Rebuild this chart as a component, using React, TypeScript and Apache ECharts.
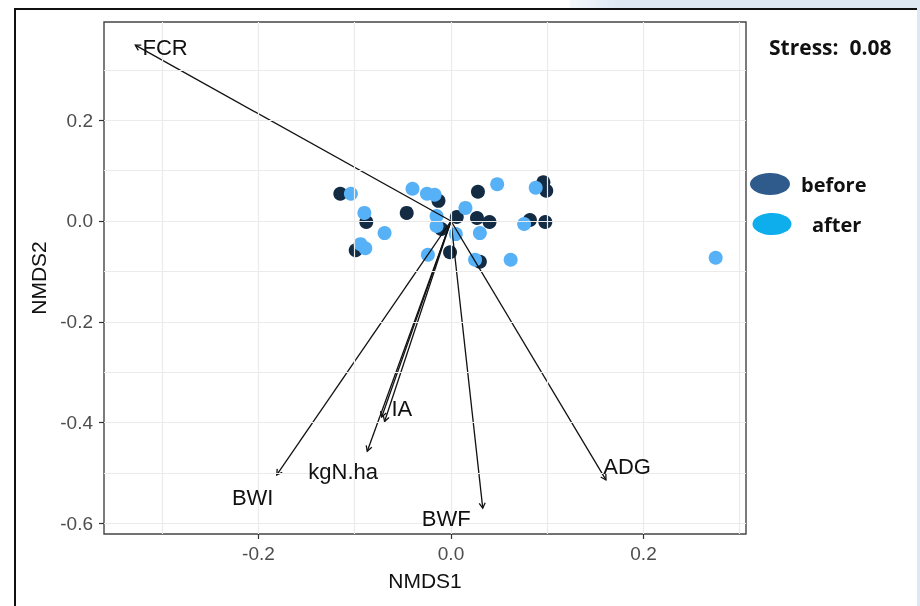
import React, { useEffect, useRef } from 'react';
import * as echarts from 'echarts';

// NMDS site scores (NMDS1, NMDS2)
const beforePoints: [number, number][] = [
  [-0.115, 0.054], [-0.046, 0.016], [-0.088, -0.002], [-0.099, -0.058],
  [-0.013, 0.040], [-0.010, -0.016], [-0.001, -0.062], [0.006, 0.008],
  [0.027, 0.006], [0.040, -0.002], [0.028, 0.058], [0.096, 0.077],
  [0.099, 0.060], [0.082, 0.002], [0.098, -0.002], [0.030, -0.081],
];
const afterPoints: [number, number][] = [
  [-0.104, 0.054], [-0.040, 0.064], [-0.025, 0.054], [-0.017, 0.052],
  [-0.090, 0.016], [-0.069, -0.024], [-0.094, -0.046], [-0.089, -0.054],
  [-0.015, 0.010], [-0.015, -0.010], [-0.024, -0.067], [0.015, 0.026],
  [0.005, -0.026], [0.030, -0.024], [0.025, -0.077], [0.048, 0.073],
  [0.088, 0.066], [0.076, -0.006], [0.062, -0.077], [0.275, -0.073],
];

// Environmental vectors (arrow tips)
const vectorNames = ['FCR', 'BWI', 'kgN.ha', 'IA', 'IA', 'BWF', 'ADG'];
const vectorEnds: [number, number][] = [
  [-0.328, 0.349], [-0.181, -0.504], [-0.087, -0.457], [-0.072, -0.389],
  [-0.069, -0.398], [0.033, -0.570], [0.161, -0.514],
];
const labelNames = ['FCR', 'BWI', 'kgN.ha', 'IA', 'BWF', 'ADG'];
const labelPositions: [number, number][] = [
  [-0.297, 0.345], [-0.206, -0.548], [-0.112, -0.498], [-0.051, -0.373],
  [-0.005, -0.590], [0.183, -0.488],
];

// Axis ticks
const xMajorTicks = [-0.2, 0.0, 0.2];
const yMajorTicks = [-0.6, -0.4, -0.2, 0.0, 0.2];
const xGridLines = [-0.3, -0.2, -0.1, 0.0, 0.1, 0.2, 0.3];
const yGridLines = [-0.6, -0.5, -0.4, -0.3, -0.2, -0.1, 0.0, 0.1, 0.2, 0.3];

const seriesNames = ['before', 'after'];
const stressLabel = 'Stress:  0.08';
const xTitle = 'NMDS1';
const yTitle = 'NMDS2';

const X_MIN = -0.3605;
const X_MAX = 0.3065;
const Y_MIN = -0.6213;
const Y_MAX = 0.395;

export default function App() {
  const ref = useRef<HTMLDivElement>(null);
  useEffect(() => {
    document.body.style.margin = '0';
    const chart = echarts.init(ref.current!, null, { renderer: 'svg' });
    const fmt = (v: number) => (Math.abs(v) < 1e-9 ? '0.0' : v.toFixed(1));
    const font = 'Liberation Sans, Arial, sans-serif';
    const axis = (min: number, max: number, name: string, isY: boolean, ticks: number[]) => ({
      type: 'value',
      min,
      max,
      name,
      nameLocation: 'middle',
      nameGap: isY ? 52 : 36,
      nameTextStyle: { fontSize: 21, color: '#111', fontFamily: font },
      axisLine: { show: false, onZero: false },
      axisTick: { show: true, length: 5, customValues: ticks, lineStyle: { color: '#333', width: 1.2 } },
      axisLabel: {
        customValues: ticks,
        formatter: fmt,
        color: '#4d4d4d',
        fontSize: 19,
        fontFamily: font,
        margin: isY ? 11 : 10,
      },
      splitLine: { show: false },
    });
    const legendColors = ['#2f5b8c', '#0eaeec'];
    chart.setOption({
      animation: false,
      grid: {
        left: 104, top: 22, right: 174, bottom: 72,
        show: true, borderColor: '#444', borderWidth: 1.4, backgroundColor: '#fff',
      },
      xAxis: axis(X_MIN, X_MAX, xTitle, false, xMajorTicks),
      yAxis: axis(Y_MIN, Y_MAX, yTitle, true, yMajorTicks),
      series: [
        {
          type: 'scatter', name: 'grid', data: [], z: 1, silent: true,
          markLine: {
            silent: true,
            animation: false,
            symbol: ['none', 'none'],
            lineStyle: { color: '#ebebeb', width: 1.2, type: 'solid' },
            label: { show: false },
            emphasis: { disabled: true },
            data: [
              ...xGridLines.map((v) => ({ xAxis: v })),
              ...yGridLines.map((v) => ({ yAxis: v })),
            ],
          },
        },
        {
          type: 'scatter', name: seriesNames[0], data: beforePoints, symbolSize: 14,
          itemStyle: { color: '#132B43', opacity: 1 }, z: 2, silent: true,
        },
        {
          type: 'scatter', name: seriesNames[1], data: afterPoints, symbolSize: 14,
          itemStyle: { color: '#56B1F7', opacity: 1 }, z: 3, silent: true,
        },
        {
          type: 'custom', name: 'vectors', z: 4, silent: true,
          data: vectorEnds.map((e, i) => ({ value: e, name: vectorNames[i] })),
          renderItem: (params: any, api: any) => {
            const s = api.coord([0, 0]);
            const e = api.coord([api.value(0), api.value(1)]);
            const a = Math.atan2(e[1] - s[1], e[0] - s[0]);
            const L = 6;
            const w = Math.PI / 6;
            const p1 = [e[0] - L * Math.cos(a - w), e[1] - L * Math.sin(a - w)];
            const p2 = [e[0] - L * Math.cos(a + w), e[1] - L * Math.sin(a + w)];
            const st = { stroke: '#111', lineWidth: 1.3, fill: 'none' };
            return {
              type: 'group',
              children: [
                { type: 'line', shape: { x1: s[0], y1: s[1], x2: e[0], y2: e[1] }, style: st },
                { type: 'polyline', shape: { points: [p1, e, p2] }, style: st },
              ],
            };
          },
        },
        {
          type: 'custom', name: 'labels', z: 5, silent: true,
          data: labelPositions.map((p, i) => ({ value: p, name: labelNames[i] })),
          renderItem: (params: any, api: any) => {
            const c = api.coord([api.value(0), api.value(1)]);
            return {
              type: 'text', x: c[0], y: c[1],
              style: {
                text: labelNames[params.dataIndex], fontSize: 22, fill: '#111',
                fontFamily: font, align: 'center', verticalAlign: 'middle',
              },
            };
          },
        },
      ],
      graphic: [
        { type: 'rect', shape: { x: 570, y: 0, width: 350, height: 9 },
          style: { fill: new echarts.graphic.LinearGradient(0, 0, 1, 0, [
            { offset: 0, color: '#f4f8fb' }, { offset: 0.15, color: '#dde8f2' }, { offset: 1, color: '#dde8f2' },
          ]) }, silent: true },
        { type: 'rect', shape: { x: 917, y: 0, width: 3, height: 606 }, style: { fill: '#dde8f2' }, silent: true },
        { type: 'line', shape: { x1: 14, y1: 9, x2: 917, y2: 9 }, style: { stroke: '#111', lineWidth: 2 }, silent: true },
        { type: 'line', shape: { x1: 15, y1: 8, x2: 15, y2: 606 }, style: { stroke: '#111', lineWidth: 2 }, silent: true },
        { type: 'text', x: 769, y: 47, style: { text: stressLabel, fontSize: 21, fontWeight: 'bold', fontFamily: 'Open Sans', fill: '#111', verticalAlign: 'middle', align: 'left' } },
        { type: 'ellipse', shape: { cx: 770, cy: 184, rx: 20, ry: 11 }, style: { fill: legendColors[0] } },
        { type: 'ellipse', shape: { cx: 772, cy: 224, rx: 19.5, ry: 11 }, style: { fill: legendColors[1] } },
        { type: 'text', x: 801, y: 184, style: { text: seriesNames[0], fontSize: 20, fontWeight: 'bold', fontFamily: 'Open Sans', fill: '#111', verticalAlign: 'middle', align: 'left' } },
        { type: 'text', x: 812, y: 224, style: { text: seriesNames[1], fontSize: 20, fontWeight: 'bold', fontFamily: 'Open Sans', fill: '#111', verticalAlign: 'middle', align: 'left' } },
      ],
    });
    return () => chart.dispose();
  }, []);
  return <div ref={ref} style={{ position: 'fixed', left: 0, top: 0, width: 920, height: 606 }} />;
}
